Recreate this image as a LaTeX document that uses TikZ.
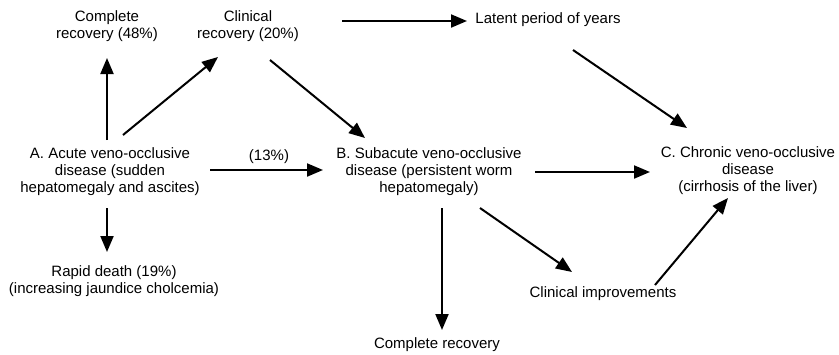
\documentclass[tikz,border=0pt]{standalone}
\usepackage{fontspec}
\setmainfont{Liberation Sans}
\usetikzlibrary{arrows.meta,calc}

\begin{document}
\begin{tikzpicture}[x=1pt, y=-1pt,
  font=\fontsize{15}{17}\selectfont,
  every node/.style={align=center, inner sep=0pt},
  arr/.style={line width=2pt, -{Triangle[length=16pt,width=13pt]}}]
  \useasboundingbox (0,0) rectangle (839,354);

  \node (cr48)   at (107,26)  {Complete\\recovery (48\%)};
  \node (cr20)   at (248,26)  {Clinical\\recovery (20\%)};
  \node (latent) at (548,20)  {Latent period of years};
  \node (A)      at (110,172) {A. Acute veno-occlusive\\disease (sudden\\hepatomegaly and ascites)};
  \node (p13)    at (269,157) {(13\%)};
  \node (B)      at (429,172) {B. Subacute veno-occlusive\\disease (persistent worm\\hepatomegaly)};
  \node (C)      at (748,171) {C. Chronic veno-occlusive\\disease\\(cirrhosis of the liver)};
  \node (death)  at (114,281) {Rapid death (19\%)\\(increasing jaundice cholcemia)};
  \node (improv) at (603,294) {Clinical improvements};
  \node (cr)     at (437,345) {Complete recovery};

  \draw[arr] ($(A)+(-3,-32)$) -- ($(cr48)+(0,32)$);
  \draw[arr] ($(A)+(13,-37)$) -- ($(cr20)+(-30,31)$);
  \draw[arr] ($(cr20)+(22,34)$) -- ($(B)+(-64,-34)$);
  \draw[arr] ($(cr20)+(94,-5)$) -- ($(latent)+(-81,1)$);
  \draw[arr] ($(latent)+(25,30)$) -- ($(C)+(-61,-43)$);
  \draw[arr] ($(A)+(100,-2)$) -- ($(B)+(-106,-2)$);
  \draw[arr] ($(B)+(106,0)$) -- ($(C)+(-98,1)$);
  \draw[arr] ($(A)+(-3,36)$) -- ($(death)+(-7,-29)$);
  \draw[arr] ($(B)+(13,36)$) -- ($(cr)+(5,-15)$);
  \draw[arr] ($(B)+(51,36)$) -- ($(improv)+(-31,-22)$);
  \draw[arr] ($(improv)+(52,-9)$) -- ($(C)+(-20,27)$);

\end{tikzpicture}
\end{document}
